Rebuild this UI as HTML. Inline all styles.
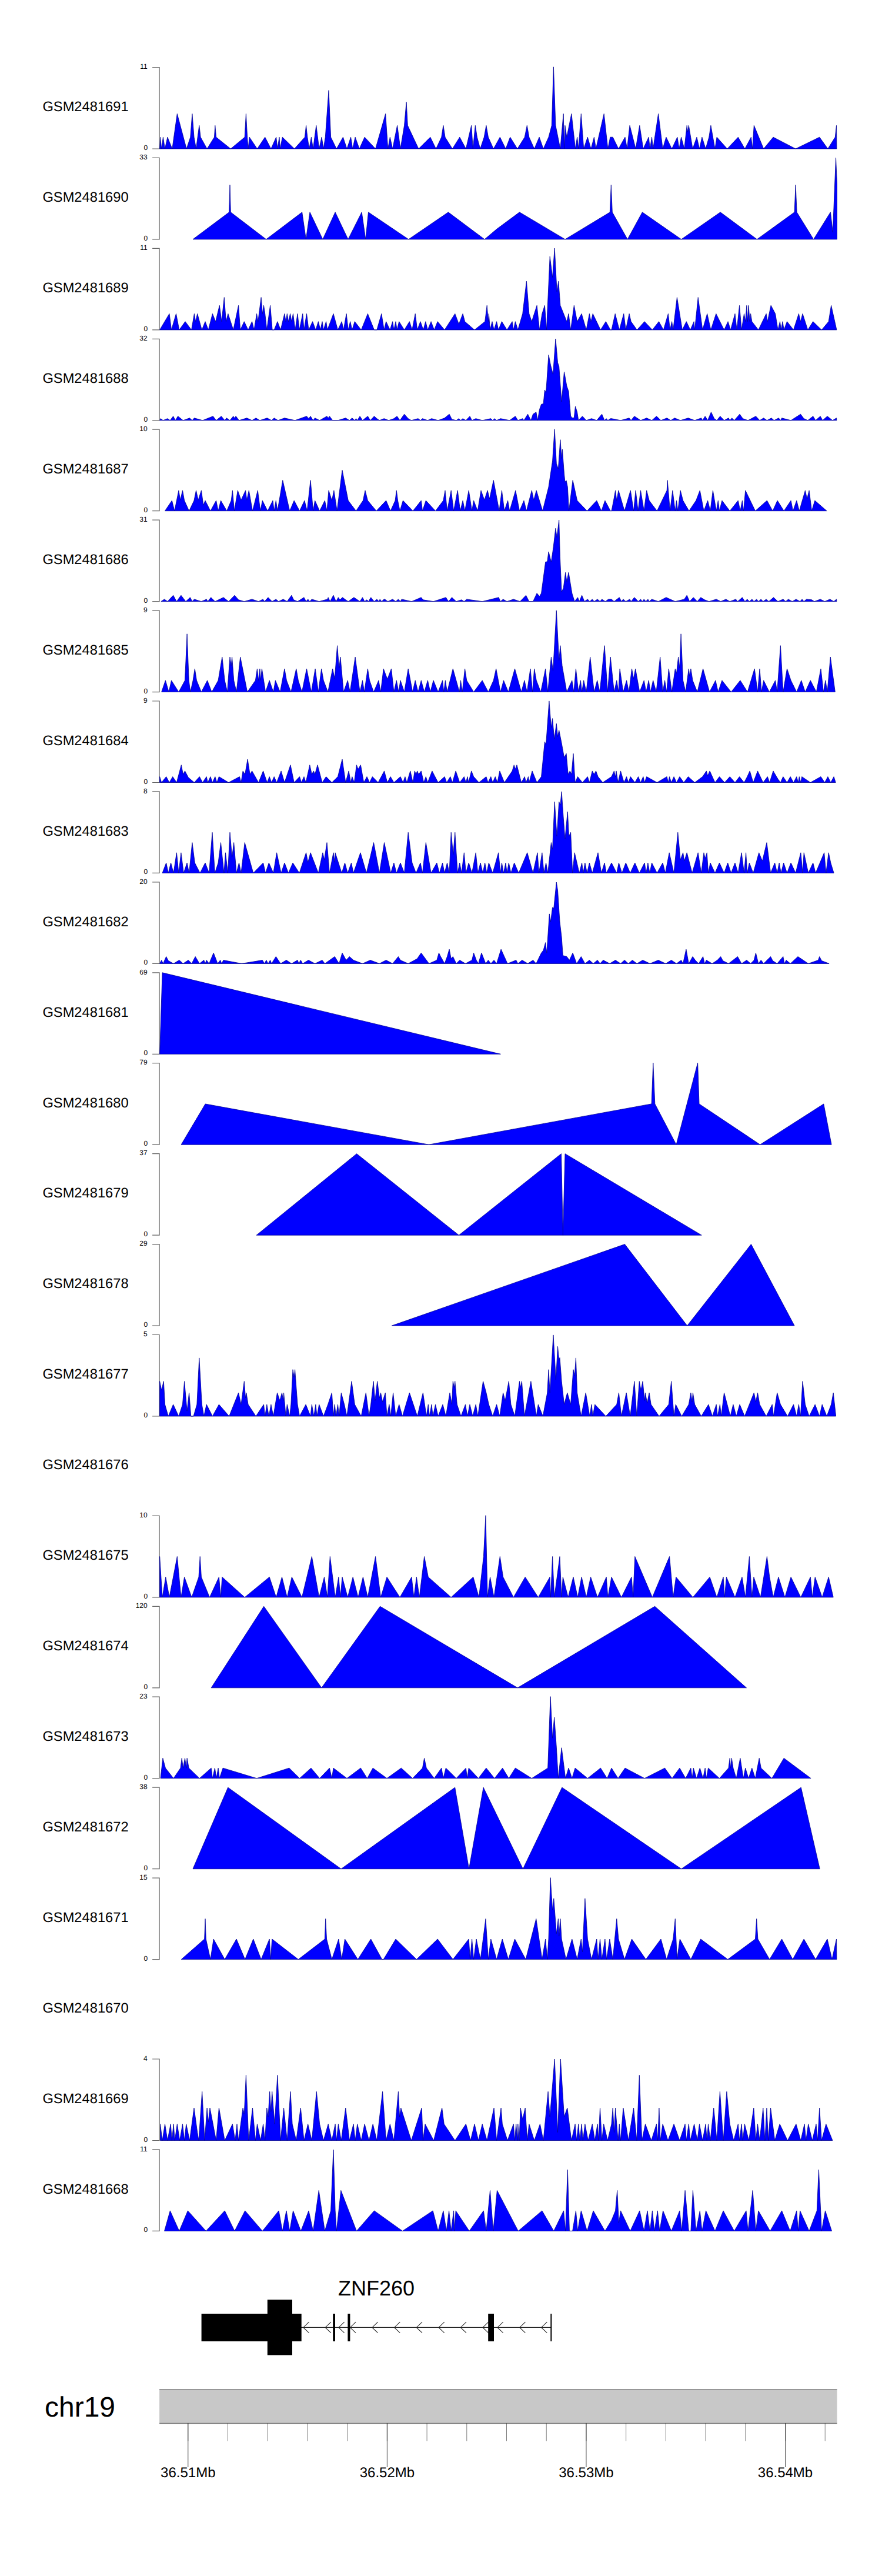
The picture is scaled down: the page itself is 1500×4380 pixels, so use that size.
<!DOCTYPE html><html><head><meta charset="utf-8"><style>html,body{margin:0;padding:0;background:#fff;}svg{display:block;}text{font-family:"Liberation Sans",sans-serif;text-rendering:geometricPrecision;}</style></head><body>
<svg width="1500" height="4380" viewBox="0 0 1500 4380">
<rect x="0" y="0" width="1500" height="4380" fill="#fff"/>
<text x="145.5" y="189.2" font-size="23.7" text-anchor="middle" fill="#000">GSM2481691</text>
<path d="M259.1 114.5H271.1V253.0H259.1" fill="none" stroke="#666" stroke-width="1.2"/>
<text x="250.7" y="117.2" font-size="12" text-anchor="end" fill="#000">11</text>
<text x="251.2" y="255.0" font-size="12" text-anchor="end" fill="#000">0</text>
<polygon points="271.6,253.0 272.5,233.2 274.7,253.0 277.4,233.2 280.5,253.0 284.9,233.2 292.9,253.0 301.3,193.4 317.2,253.0 323.8,233.2 326.9,193.4 330.0,233.2 333.5,253.0 338.8,213.3 341.1,233.2 352.1,253.0 364.5,233.2 365.8,213.3 367.6,233.2 392.3,253.0 416.2,233.2 418.4,193.4 420.6,233.2 422.0,253.0 424.2,233.2 437.4,253.0 450.7,233.2 460.9,253.0 469.7,233.2 471.9,253.0 475.0,233.2 476.4,253.0 480.3,233.2 500.7,253.0 518.4,233.2 520.6,213.3 522.8,233.2 525.9,253.0 529.4,233.2 532.5,253.0 537.8,213.3 542.7,253.0 547.1,233.2 550.2,253.0 553.3,233.2 559.0,153.6 562.6,233.2 572.3,253.0 583.4,233.2 590.0,253.0 596.6,233.2 599.7,253.0 604.1,233.2 611.2,253.0 620.1,233.2 638.6,253.0 650.0,213.3 655.7,193.4 659.7,253.0 663.3,233.2 667.7,253.0 675.6,213.3 681.0,253.0 687.6,213.3 691.1,173.5 693.3,213.3 711.9,253.0 731.8,233.2 741.5,253.0 750.8,233.2 753.9,213.3 757.0,233.2 769.4,253.0 781.8,233.2 792.4,253.0 801.7,213.3 804.3,253.0 808.3,213.3 811.4,233.2 816.7,253.0 823.3,233.2 826.9,213.3 830.4,233.2 839.3,253.0 850.3,233.2 860.0,253.0 867.6,233.2 879.9,253.0 892.3,233.2 896.3,213.3 899.8,233.2 908.7,253.0 917.1,233.2 924.1,253.0 933.0,233.2 938.3,213.3 941.4,113.8 944.9,213.3 952.9,253.0 958.2,193.4 959.5,253.0 960.9,213.3 963.9,233.2 971.9,193.4 978.5,253.0 981.6,233.2 983.8,253.0 988.3,193.4 992.7,253.0 999.3,233.2 1005.1,253.0 1010.4,233.2 1013.5,253.0 1027.2,193.4 1033.8,253.0 1037.8,233.2 1042.2,233.2 1051.9,253.0 1063.0,233.2 1066.5,253.0 1071.0,213.3 1081.1,253.0 1087.8,213.3 1093.9,253.0 1103.2,233.2 1105.4,253.0 1108.5,233.2 1110.7,253.0 1119.6,193.4 1127.1,253.0 1132.9,233.2 1142.6,253.0 1151.9,233.2 1155.0,253.0 1158.5,233.2 1163.8,253.0 1168.2,213.3 1169.6,224.4 1171.3,213.3 1178.0,253.0 1185.0,233.2 1189.5,253.0 1193.9,233.2 1200.1,253.0 1205.8,233.2 1208.9,213.3 1212.4,233.2 1216.0,253.0 1219.1,233.2 1236.8,253.0 1255.3,233.2 1266.8,253.0 1277.4,233.2 1279.7,253.0 1282.3,213.3 1298.7,253.0 1315.0,233.2 1353.1,253.0 1393.7,233.2 1407.9,253.0 1420.3,233.2 1422.5,213.3 1422.9,253.0" fill="#0000ff" stroke="#000090" stroke-width="0.8" stroke-linejoin="miter"/>
<text x="145.5" y="343.2" font-size="23.7" text-anchor="middle" fill="#000">GSM2481690</text>
<path d="M259.1 268.4H271.1V406.9H259.1" fill="none" stroke="#666" stroke-width="1.2"/>
<text x="250.7" y="271.1" font-size="12" text-anchor="end" fill="#000">33</text>
<text x="251.2" y="408.9" font-size="12" text-anchor="end" fill="#000">0</text>
<polygon points="328.0,406.9 389.7,360.8 391.0,314.4 392.3,360.8 452.7,406.9 513.7,360.8 520.4,406.9 527.0,360.8 548.9,406.9 570.1,360.8 592.0,406.9 615.2,360.8 621.8,406.9 626.5,360.8 694.8,406.9 762.4,360.8 824.1,406.9 845.0,389.3 883.5,360.8 961.1,406.9 1037.3,360.8 1039.3,314.4 1041.3,360.8 1067.2,406.9 1092.4,360.8 1158.7,406.9 1225.1,360.8 1287.4,406.9 1351.1,360.8 1353.1,314.4 1355.1,360.8 1383.6,406.9 1412.4,360.8 1416.3,394.9 1421.5,268.3 1423.5,313.9 1423.5,406.9" fill="#0000ff" stroke="#000090" stroke-width="0.8" stroke-linejoin="miter"/>
<text x="145.5" y="497.1" font-size="23.7" text-anchor="middle" fill="#000">GSM2481689</text>
<path d="M259.1 422.4H271.1V560.9H259.1" fill="none" stroke="#666" stroke-width="1.2"/>
<text x="250.7" y="425.1" font-size="12" text-anchor="end" fill="#000">11</text>
<text x="251.2" y="562.9" font-size="12" text-anchor="end" fill="#000">0</text>
<polygon points="271.6,560.9 288.0,533.4 291.5,560.9 299.5,533.4 304.8,560.9 315.0,546.7 325.6,560.9 330.4,533.4 332.7,546.7 335.7,533.4 343.3,560.9 349.0,546.7 354.3,560.9 361.4,533.4 366.7,546.7 373.3,519.3 376.9,546.7 381.3,505.6 384.4,546.7 387.9,533.4 396.8,560.9 405.6,519.3 408.7,560.9 415.3,546.7 422.0,560.9 428.6,546.7 432.1,560.9 436.6,533.4 438.8,546.7 444.1,505.6 446.3,533.4 448.5,519.3 450.7,533.4 453.8,560.9 459.6,519.3 463.1,560.9 466.2,560.9 471.9,546.7 477.2,560.9 483.9,533.4 486.1,546.7 488.3,533.4 490.5,546.7 493.6,533.4 495.8,546.7 498.5,533.4 502.0,560.9 506.0,533.4 509.1,560.9 514.8,533.4 517.0,560.9 521.5,533.4 525.0,560.9 531.6,546.7 536.9,560.9 541.4,546.7 544.9,560.9 548.0,546.7 550.2,560.9 554.6,546.7 556.8,560.9 567.0,533.4 574.5,560.9 581.2,546.7 584.3,560.9 589.1,533.4 592.2,560.9 595.7,546.7 598.8,560.9 603.3,546.7 614.3,560.9 625.4,533.4 636.4,560.9 640.9,560.9 648.8,533.4 653.2,560.9 656.6,546.7 663.3,560.9 667.7,546.7 669.9,560.9 673.0,546.7 675.2,560.9 678.7,546.7 687.6,560.9 696.4,546.7 700.9,560.9 706.2,533.4 709.7,560.9 715.0,546.7 719.9,560.9 723.8,546.7 727.4,560.9 733.1,546.7 738.4,560.9 744.2,546.7 756.1,560.9 773.8,533.4 780.4,551.1 787.1,533.4 790.6,546.7 807.0,560.9 824.7,546.7 828.2,519.3 830.4,546.7 831.3,533.4 833.5,560.9 837.0,546.7 840.1,560.9 844.6,546.7 847.7,560.9 853.4,546.7 862.2,560.9 871.1,546.7 873.3,560.9 876.4,546.7 880.8,560.9 888.8,533.4 895.4,478.2 899.8,533.4 904.3,546.7 913.1,519.3 917.5,560.9 921.9,533.4 926.4,519.3 929.5,560.9 935.2,436.1 939.6,471.5 943.2,422.0 947.1,495.8 949.8,478.2 952.9,519.3 963.9,546.7 967.0,533.4 970.6,560.9 976.3,519.3 981.6,546.7 989.1,533.4 997.1,560.9 1002.4,533.4 1005.1,546.7 1008.2,533.4 1021.4,560.9 1030.3,546.7 1038.2,560.9 1040.0,560.9 1046.2,533.4 1053.3,560.9 1060.8,533.4 1064.3,560.9 1070.1,533.4 1073.2,546.7 1083.3,560.9 1096.2,546.7 1109.4,560.9 1120.5,546.7 1128.4,560.9 1136.4,533.4 1139.5,560.9 1142.6,546.7 1144.8,560.9 1151.4,505.6 1160.3,560.9 1167.3,546.7 1174.0,560.9 1180.2,546.7 1181.5,560.9 1187.2,505.6 1194.8,560.9 1202.7,533.4 1208.9,560.9 1217.8,533.4 1231.5,560.9 1238.1,546.7 1242.5,560.9 1250.0,533.4 1253.1,560.9 1257.6,519.3 1261.1,560.9 1265.5,533.4 1267.7,546.7 1269.9,519.3 1271.3,546.7 1273.0,519.3 1275.2,546.7 1276.6,533.4 1278.8,546.7 1289.8,560.9 1303.1,533.4 1305.3,546.7 1311.1,519.3 1318.6,533.4 1323.0,560.9 1326.5,546.7 1328.3,560.9 1331.0,546.7 1333.2,560.9 1338.5,546.7 1349.5,560.9 1358.4,533.4 1361.5,546.7 1365.0,533.4 1373.8,560.9 1382.7,546.7 1397.3,560.9 1409.2,546.7 1413.6,519.3 1422.9,560.9" fill="#0000ff" stroke="#000090" stroke-width="0.8" stroke-linejoin="miter"/>
<text x="145.5" y="651.0" font-size="23.7" text-anchor="middle" fill="#000">GSM2481688</text>
<path d="M259.1 576.3H271.1V714.8H259.1" fill="none" stroke="#666" stroke-width="1.2"/>
<text x="250.7" y="579.0" font-size="12" text-anchor="end" fill="#000">32</text>
<text x="251.2" y="716.8" font-size="12" text-anchor="end" fill="#000">0</text>
<polygon points="271.6,714.8 273.0,711.7 277.4,714.8 284.9,711.7 289.3,714.8 294.6,707.7 298.2,714.8 302.6,707.7 311.4,714.8 322.5,710.8 326.9,714.8 330.4,710.8 344.6,714.8 362.3,707.7 367.6,714.8 376.4,707.7 382.2,714.8 385.3,710.8 391.0,714.8 396.8,707.7 398.5,710.8 401.2,707.7 406.5,714.8 419.8,710.8 428.6,714.8 435.2,710.8 441.9,714.8 454.3,710.8 461.8,714.8 466.2,710.8 472.8,714.8 483.9,710.8 501.6,714.8 521.5,707.7 525.0,711.7 528.1,707.7 532.5,714.8 535.6,710.8 543.6,714.8 556.0,707.7 558.2,710.8 560.4,707.7 565.7,714.8 574.5,714.8 587.8,710.8 594.4,714.8 598.8,710.8 603.3,714.8 605.5,711.7 607.7,714.8 612.1,707.7 616.5,714.8 625.4,707.7 629.8,714.8 636.4,707.7 640.9,711.7 645.3,714.8 653.2,711.7 661.1,714.8 669.9,711.7 675.2,707.7 680.1,714.8 687.6,704.2 694.2,711.7 699.5,714.8 711.0,711.7 715.0,714.8 718.5,711.7 727.4,714.8 734.0,711.7 745.1,714.8 756.1,710.8 764.1,704.2 768.5,713.0 776.0,714.8 780.4,711.7 783.5,714.8 787.1,711.7 792.4,714.8 799.0,707.7 802.6,714.8 809.2,711.7 820.2,714.8 834.8,711.7 837.9,714.8 841.0,711.7 844.6,714.8 851.2,711.7 866.7,714.8 876.4,707.7 880.8,714.8 888.8,711.7 891.0,714.8 897.6,704.2 902.9,714.8 906.5,704.2 911.8,700.7 914.4,714.8 917.5,696.2 920.6,687.4 924.1,686.5 926.4,663.1 928.6,667.5 933.0,603.4 936.5,621.1 940.5,636.5 944.9,576.0 948.5,616.6 950.7,623.3 955.1,683.0 959.5,632.1 963.9,656.4 967.0,665.3 970.6,707.3 972.8,710.4 976.3,710.4 978.5,690.9 981.6,700.7 983.8,714.8 990.5,707.7 997.1,714.8 1006.0,711.7 1014.8,714.8 1023.6,704.2 1028.1,714.8 1031.2,711.7 1033.8,714.8 1038.2,711.7 1040.0,711.7 1055.5,714.8 1070.1,710.8 1073.2,714.8 1078.9,707.7 1089.5,714.8 1099.7,710.8 1108.5,714.8 1116.5,707.7 1124.0,714.8 1134.2,710.8 1140.8,714.8 1147.4,710.8 1157.2,714.8 1170.4,710.8 1181.5,714.8 1192.6,710.8 1194.8,714.8 1199.2,707.7 1203.6,714.8 1209.4,700.7 1214.7,711.7 1219.1,714.8 1224.8,707.7 1231.5,714.8 1239.0,710.8 1241.2,714.8 1244.7,710.8 1248.7,714.8 1258.0,704.2 1263.3,711.7 1272.1,714.8 1285.4,707.7 1292.0,714.8 1298.7,710.8 1304.4,714.8 1311.9,710.8 1316.4,714.8 1324.3,710.8 1327.4,714.8 1329.6,710.8 1345.1,714.8 1361.5,704.2 1367.2,711.7 1373.8,714.8 1382.7,707.7 1387.1,714.8 1395.1,707.7 1399.0,714.8 1407.0,707.7 1415.9,714.8 1422.5,710.8 1422.9,714.8" fill="#0000ff" stroke="#000090" stroke-width="0.8" stroke-linejoin="miter"/>
<text x="145.5" y="805.0" font-size="23.7" text-anchor="middle" fill="#000">GSM2481687</text>
<path d="M259.1 730.2H271.1V868.7H259.1" fill="none" stroke="#666" stroke-width="1.2"/>
<text x="250.7" y="732.9" font-size="12" text-anchor="end" fill="#000">10</text>
<text x="251.2" y="870.7" font-size="12" text-anchor="end" fill="#000">0</text>
<polygon points="280.5,868.7 292.4,851.1 296.8,868.7 303.9,833.9 306.6,850.2 310.5,833.9 313.6,851.1 321.6,868.7 330.0,851.1 333.5,833.9 337.1,850.2 342.4,833.9 345.9,859.1 349.0,851.1 357.9,868.7 367.6,851.1 371.1,868.7 375.5,851.1 385.7,868.7 393.2,851.1 395.4,833.9 398.5,868.7 404.3,833.9 410.0,850.2 417.6,833.9 419.8,850.2 423.3,833.9 429.5,868.7 438.3,833.9 442.8,868.7 446.3,851.1 455.1,868.7 464.0,851.1 466.2,868.7 469.3,851.1 471.9,868.7 480.8,816.6 492.7,868.7 500.2,851.1 509.5,868.7 517.9,851.1 522.3,868.7 528.1,816.6 532.5,868.7 535.6,851.1 543.6,868.7 552.4,851.1 556.0,868.7 559.0,833.9 564.4,851.1 567.9,833.9 573.2,868.7 582.0,799.4 592.2,851.1 605.5,868.7 617.4,851.1 621.0,833.9 625.4,851.1 640.0,868.7 656.6,851.1 664.1,868.7 672.1,851.1 674.3,833.9 676.5,851.1 680.1,868.7 685.4,851.1 702.2,868.7 716.3,851.1 718.5,868.7 724.3,851.1 740.6,868.7 753.9,851.1 757.0,833.9 760.5,868.7 767.2,833.9 771.6,868.7 778.2,833.9 782.7,868.7 787.1,851.1 790.6,868.7 797.2,833.9 802.6,868.7 805.6,851.1 812.3,868.7 818.0,833.9 823.8,850.2 829.1,833.9 832.6,848.0 839.3,816.6 849.0,868.7 853.4,833.9 857.8,868.7 863.6,851.1 866.7,868.7 876.8,833.9 883.5,868.7 891.0,851.1 895.4,868.7 904.3,833.9 907.8,850.2 912.2,833.9 922.8,868.7 933.0,828.1 939.6,783.9 943.2,729.9 946.3,788.3 949.4,797.2 952.9,747.6 955.1,779.5 956.4,764.0 959.5,806.0 960.9,819.3 963.1,817.0 965.3,828.1 967.5,868.7 974.1,816.6 981.6,851.1 998.4,868.7 1014.8,851.1 1022.8,868.7 1028.9,851.1 1038.2,868.7 1040.0,868.7 1043.5,851.1 1046.6,833.9 1048.8,851.1 1051.9,833.9 1062.1,868.7 1072.3,833.9 1077.6,868.7 1081.1,833.9 1085.1,868.7 1089.5,833.9 1095.3,868.7 1099.7,833.9 1104.1,851.1 1117.4,868.7 1134.2,833.9 1135.1,816.6 1139.5,868.7 1143.9,833.9 1147.0,859.1 1148.3,868.7 1150.5,851.1 1152.8,868.7 1157.2,833.9 1161.6,851.1 1171.8,868.7 1183.7,851.1 1190.3,833.9 1197.0,868.7 1203.6,851.1 1208.0,868.7 1212.4,833.9 1218.2,868.7 1221.3,851.1 1223.5,868.7 1227.9,851.1 1241.2,868.7 1255.3,851.1 1258.9,868.7 1262.4,851.1 1264.6,868.7 1267.7,833.9 1284.5,868.7 1304.4,851.1 1314.1,868.7 1322.1,851.1 1333.2,868.7 1345.1,851.1 1348.6,868.7 1354.8,851.1 1359.3,868.7 1369.4,833.9 1372.5,848.0 1376.1,833.9 1380.5,868.7 1385.8,851.1 1406.1,868.7" fill="#0000ff" stroke="#000090" stroke-width="0.8" stroke-linejoin="miter"/>
<text x="145.5" y="958.9" font-size="23.7" text-anchor="middle" fill="#000">GSM2481686</text>
<path d="M259.1 884.2H271.1V1022.7H259.1" fill="none" stroke="#666" stroke-width="1.2"/>
<text x="250.7" y="886.9" font-size="12" text-anchor="end" fill="#000">31</text>
<text x="251.2" y="1024.7" font-size="12" text-anchor="end" fill="#000">0</text>
<polygon points="273.8,1022.7 279.6,1018.9 284.9,1022.7 294.6,1012.2 300.4,1022.7 307.9,1012.2 315.9,1022.7 323.4,1015.8 326.9,1022.7 330.4,1018.9 342.4,1022.7 351.2,1018.9 353.4,1022.7 358.7,1015.8 365.8,1022.7 380.0,1015.8 388.8,1022.7 399.0,1012.2 405.6,1019.8 415.3,1022.7 428.6,1018.9 439.7,1022.7 447.2,1018.9 449.8,1022.7 456.0,1015.8 462.7,1022.7 469.3,1018.9 473.7,1022.7 481.7,1018.9 488.3,1022.7 495.8,1012.2 499.4,1019.8 506.0,1022.7 517.0,1015.8 520.6,1022.7 523.7,1018.9 526.8,1022.7 530.3,1018.9 542.7,1022.7 556.8,1018.9 558.2,1015.8 561.3,1022.7 567.0,1012.2 571.4,1022.7 575.4,1015.8 578.1,1019.8 582.5,1015.8 587.8,1019.8 592.2,1022.7 601.9,1015.8 612.1,1022.7 616.5,1015.8 620.1,1022.7 624.0,1019.8 626.7,1022.7 630.7,1015.8 636.4,1022.7 640.9,1018.9 644.4,1022.7 646.2,1018.9 648.8,1022.7 653.2,1018.9 654.4,1018.9 659.7,1022.7 667.7,1018.9 673.0,1022.7 677.4,1018.9 681.0,1022.7 683.2,1018.9 700.0,1022.7 716.3,1015.8 719.4,1019.8 737.1,1022.7 758.3,1015.8 762.8,1022.7 768.5,1015.8 776.0,1022.7 784.9,1019.8 789.3,1022.7 793.7,1018.9 820.2,1022.7 848.1,1015.8 851.2,1022.7 855.6,1018.9 862.2,1022.7 873.3,1018.9 884.4,1022.7 894.5,1012.2 899.8,1022.7 906.5,1022.7 913.1,1008.7 917.5,1014.0 920.6,1008.7 927.7,955.6 930.8,954.8 933.0,938.0 937.4,955.6 941.0,931.3 944.9,898.2 947.1,913.6 950.7,884.0 952.4,946.8 955.1,1006.5 958.2,999.9 961.7,973.3 963.9,988.8 967.0,973.3 972.8,1008.7 977.2,1022.7 982.5,1015.8 985.2,1022.7 989.6,1012.2 994.0,1022.7 999.3,1018.9 1002.9,1022.7 1007.3,1018.9 1010.4,1022.7 1016.1,1018.9 1020.5,1022.7 1023.6,1018.9 1029.4,1022.7 1034.7,1018.9 1040.0,1018.9 1044.4,1022.7 1053.3,1015.8 1056.8,1022.7 1059.9,1018.9 1064.3,1022.7 1071.0,1018.9 1073.2,1022.7 1078.9,1015.8 1085.5,1022.7 1089.5,1018.9 1092.2,1022.7 1095.3,1018.9 1098.4,1022.7 1101.9,1018.9 1104.1,1022.7 1108.5,1018.9 1119.6,1022.7 1132.9,1015.8 1148.3,1022.7 1163.8,1018.9 1168.2,1012.2 1172.7,1022.7 1179.3,1015.8 1185.9,1022.7 1191.7,1015.8 1198.3,1019.8 1205.8,1022.7 1218.2,1018.9 1225.7,1022.7 1234.6,1018.9 1241.2,1022.7 1251.4,1018.9 1254.5,1022.7 1262.4,1015.8 1266.8,1022.7 1270.8,1018.9 1274.4,1022.7 1278.8,1018.9 1282.3,1022.7 1286.7,1018.9 1289.8,1022.7 1294.3,1018.9 1297.8,1022.7 1303.1,1018.9 1307.5,1022.7 1315.5,1015.8 1323.0,1022.7 1331.8,1018.9 1336.3,1022.7 1340.7,1018.9 1347.3,1022.7 1353.9,1018.9 1360.6,1022.7 1364.1,1018.9 1367.2,1022.7 1371.6,1018.9 1380.5,1019.8 1384.9,1022.7 1395.1,1018.9 1402.6,1022.7 1411.4,1018.9 1418.1,1022.7 1422.5,1018.9 1422.9,1022.7" fill="#0000ff" stroke="#000090" stroke-width="0.8" stroke-linejoin="miter"/>
<text x="145.5" y="1112.8" font-size="23.7" text-anchor="middle" fill="#000">GSM2481685</text>
<path d="M259.1 1038.1H271.1V1176.6H259.1" fill="none" stroke="#666" stroke-width="1.2"/>
<text x="250.7" y="1040.8" font-size="12" text-anchor="end" fill="#000">9</text>
<text x="251.2" y="1178.6" font-size="12" text-anchor="end" fill="#000">0</text>
<polygon points="274.7,1176.6 281.4,1156.9 287.1,1176.6 291.5,1156.9 303.9,1176.6 314.5,1156.9 318.1,1077.8 321.2,1156.9 323.8,1176.6 328.2,1156.9 331.3,1137.0 334.4,1156.9 342.4,1176.6 352.6,1156.9 360.1,1176.6 371.1,1156.9 377.8,1117.1 382.2,1156.9 386.6,1176.6 391.0,1117.1 393.2,1131.7 394.6,1117.1 397.7,1156.9 402.1,1176.6 408.7,1117.1 420.6,1176.6 434.4,1156.9 437.4,1137.0 439.7,1156.9 441.9,1137.0 443.2,1156.9 445.4,1137.0 451.6,1176.6 458.2,1156.9 464.9,1176.6 468.4,1156.9 476.4,1176.6 483.9,1137.0 487.4,1156.9 494.9,1176.6 503.8,1137.0 507.3,1156.9 513.5,1176.6 521.5,1137.0 529.4,1176.6 536.1,1137.0 541.4,1176.6 546.7,1137.0 550.2,1156.9 557.7,1176.6 565.7,1137.0 569.2,1153.8 573.6,1097.7 576.7,1136.1 578.9,1117.1 584.3,1176.6 591.3,1156.9 595.3,1176.6 604.1,1117.1 612.1,1176.6 616.5,1156.9 619.6,1176.6 625.4,1137.0 628.5,1156.9 635.5,1176.6 643.9,1156.9 647.5,1176.6 652.2,1137.0 658.8,1154.7 665.5,1137.0 669.9,1176.6 674.3,1156.9 677.9,1176.6 681.0,1156.9 687.6,1176.6 694.2,1137.0 701.7,1176.6 706.2,1156.9 711.0,1176.6 716.3,1156.9 721.6,1176.6 727.4,1156.9 731.8,1176.6 737.1,1156.9 745.1,1176.6 752.6,1156.9 754.8,1176.6 757.4,1156.9 760.5,1176.6 770.3,1137.0 781.3,1176.6 783.5,1156.9 786.2,1176.6 790.6,1137.0 793.7,1156.9 805.6,1176.6 820.2,1156.9 830.4,1176.6 839.3,1156.9 843.7,1137.0 851.2,1176.6 856.5,1156.9 864.5,1176.6 875.5,1137.0 886.6,1176.6 891.9,1156.9 896.3,1176.6 902.0,1137.0 905.6,1176.6 908.7,1137.0 912.2,1156.9 919.7,1176.6 927.7,1137.0 931.7,1176.6 937.4,1117.1 940.5,1140.6 946.3,1038.0 950.7,1122.9 952.9,1097.7 956.0,1131.7 963.9,1176.6 972.8,1156.9 975.9,1176.6 979.4,1137.0 983.8,1176.6 987.4,1156.9 989.6,1176.6 992.7,1156.9 997.1,1176.6 1003.7,1117.1 1010.4,1176.6 1015.7,1156.9 1020.1,1176.6 1028.1,1097.7 1033.4,1176.6 1038.2,1117.1 1044.4,1176.6 1048.8,1156.9 1051.9,1176.6 1054.1,1137.0 1059.9,1176.6 1065.6,1156.9 1069.6,1176.6 1074.5,1137.0 1077.6,1153.8 1080.7,1137.0 1087.8,1176.6 1095.3,1156.9 1098.8,1176.6 1103.2,1156.9 1106.3,1176.6 1110.7,1156.9 1116.1,1176.6 1122.7,1117.1 1127.1,1176.6 1130.6,1156.9 1133.7,1176.6 1137.3,1137.0 1142.6,1176.6 1148.3,1137.0 1150.5,1145.0 1153.6,1117.1 1155.9,1136.1 1158.1,1077.8 1161.6,1156.9 1166.0,1176.6 1171.3,1137.0 1172.7,1149.4 1174.9,1137.0 1178.0,1156.9 1185.9,1176.6 1195.6,1137.0 1206.7,1176.6 1216.9,1156.9 1221.3,1176.6 1227.9,1156.9 1243.4,1176.6 1258.9,1156.9 1271.3,1176.6 1283.2,1137.0 1288.5,1176.6 1292.0,1137.0 1295.1,1176.6 1298.7,1156.9 1308.4,1176.6 1318.6,1156.9 1321.7,1176.6 1327.4,1097.7 1331.8,1176.6 1338.5,1137.0 1345.1,1156.9 1354.8,1176.6 1362.8,1156.9 1369.4,1176.6 1378.3,1156.9 1388.4,1176.6 1396.0,1137.0 1400.4,1176.6 1403.9,1156.9 1407.0,1176.6 1412.3,1117.1 1420.3,1176.6" fill="#0000ff" stroke="#000090" stroke-width="0.8" stroke-linejoin="miter"/>
<text x="145.5" y="1266.8" font-size="23.7" text-anchor="middle" fill="#000">GSM2481684</text>
<path d="M259.1 1192.0H271.1V1330.5H259.1" fill="none" stroke="#666" stroke-width="1.2"/>
<text x="250.7" y="1194.7" font-size="12" text-anchor="end" fill="#000">9</text>
<text x="251.2" y="1332.5" font-size="12" text-anchor="end" fill="#000">0</text>
<polygon points="271.6,1330.5 271.6,1320.6 274.7,1330.5 282.7,1320.6 288.0,1330.5 293.7,1320.6 300.4,1330.5 308.3,1300.7 311.4,1316.6 314.5,1310.9 320.3,1321.9 330.4,1330.5 339.3,1320.6 344.6,1330.5 351.2,1320.6 353.4,1330.5 357.9,1320.6 361.4,1330.5 365.8,1320.6 368.9,1330.5 372.4,1320.6 388.8,1330.5 407.4,1320.6 410.0,1330.5 413.1,1310.9 416.7,1316.6 421.1,1291.0 425.1,1316.6 428.6,1310.9 439.7,1330.5 447.6,1310.9 454.3,1330.5 458.2,1320.6 461.8,1330.5 466.2,1320.6 470.6,1330.5 478.1,1310.9 483.9,1330.5 494.0,1300.7 500.2,1330.5 509.5,1320.6 512.6,1330.5 517.0,1320.6 520.1,1330.5 526.8,1300.7 530.3,1316.6 533.4,1310.9 535.6,1316.6 540.0,1300.7 548.0,1330.5 554.6,1320.6 564.4,1330.5 574.5,1320.6 582.0,1291.0 587.8,1330.5 593.1,1310.9 596.6,1330.5 598.8,1320.6 602.4,1330.5 606.4,1300.7 609.0,1307.8 613.4,1300.7 618.7,1330.5 624.0,1320.6 628.5,1330.5 633.3,1320.6 643.1,1330.5 653.5,1310.9 658.8,1330.5 664.1,1320.6 669.9,1330.5 681.0,1320.6 685.4,1330.5 688.9,1320.6 692.0,1330.5 697.8,1310.9 702.2,1330.5 705.3,1310.9 707.5,1316.6 709.7,1310.9 711.9,1316.6 716.3,1310.9 720.7,1330.5 724.3,1320.6 727.4,1330.5 734.9,1310.9 745.1,1330.5 756.1,1320.6 759.7,1330.5 765.9,1320.6 769.4,1330.5 775.1,1310.9 781.8,1330.5 789.3,1320.6 792.4,1330.5 795.0,1320.6 796.8,1330.5 801.7,1310.9 805.6,1320.6 814.5,1330.5 826.9,1320.6 830.0,1330.5 834.8,1320.6 837.9,1330.5 842.3,1320.6 845.9,1330.5 849.9,1310.9 857.8,1330.5 871.1,1310.9 874.2,1300.7 876.4,1307.8 879.0,1300.7 886.6,1330.5 892.3,1320.6 894.5,1330.5 898.5,1320.6 899.8,1330.5 905.1,1310.9 913.1,1330.5 920.6,1320.6 926.4,1261.4 928.6,1265.8 933.9,1191.9 937.4,1237.1 939.6,1221.6 942.7,1256.9 946.3,1230.4 948.5,1252.5 950.7,1241.5 955.1,1263.6 959.5,1287.9 963.1,1281.3 966.2,1316.6 969.3,1310.9 971.9,1316.6 975.0,1281.3 978.1,1330.5 982.5,1320.6 990.5,1330.5 999.3,1320.6 1002.4,1330.5 1007.3,1310.9 1010.4,1316.6 1013.5,1310.9 1017.0,1320.6 1025.0,1330.5 1040.0,1320.6 1044.4,1310.9 1046.6,1321.1 1048.0,1310.9 1051.1,1330.5 1055.5,1310.9 1061.2,1330.5 1065.6,1320.6 1068.7,1330.5 1072.3,1320.6 1079.8,1330.5 1085.5,1320.6 1089.5,1330.5 1093.9,1320.6 1096.2,1330.5 1099.7,1320.6 1117.4,1330.5 1134.2,1320.6 1136.4,1330.5 1138.6,1320.6 1141.7,1330.5 1146.1,1320.6 1150.5,1330.5 1155.9,1320.6 1162.9,1330.5 1170.4,1320.6 1181.5,1330.5 1194.8,1320.6 1201.4,1310.9 1203.6,1318.9 1207.1,1310.9 1216.0,1330.5 1223.5,1320.6 1232.3,1330.5 1241.2,1320.6 1250.0,1330.5 1257.6,1320.6 1265.5,1330.5 1270.8,1320.6 1275.2,1310.9 1281.0,1330.5 1288.5,1310.9 1297.8,1330.5 1305.3,1320.6 1308.8,1330.5 1315.0,1310.9 1323.0,1324.6 1327.4,1330.5 1331.8,1320.6 1338.5,1330.5 1344.2,1320.6 1349.5,1330.5 1354.8,1320.6 1357.5,1330.5 1359.3,1320.6 1361.9,1330.5 1363.7,1320.6 1378.3,1330.5 1396.0,1320.6 1402.6,1330.5 1407.9,1320.6 1412.8,1330.5 1418.1,1320.6 1421.2,1330.5" fill="#0000ff" stroke="#000090" stroke-width="0.8" stroke-linejoin="miter"/>
<text x="145.5" y="1420.7" font-size="23.7" text-anchor="middle" fill="#000">GSM2481683</text>
<path d="M259.1 1345.9H271.1V1484.4H259.1" fill="none" stroke="#666" stroke-width="1.2"/>
<text x="250.7" y="1348.6" font-size="12" text-anchor="end" fill="#000">8</text>
<text x="251.2" y="1486.4" font-size="12" text-anchor="end" fill="#000">0</text>
<polygon points="276.1,1484.4 282.7,1467.1 286.2,1484.4 290.6,1467.1 295.1,1484.4 300.4,1449.8 303.9,1484.4 307.9,1449.8 312.3,1484.4 318.1,1467.1 321.6,1484.4 326.9,1432.6 331.3,1467.1 340.2,1484.4 349.0,1467.1 355.6,1484.4 361.0,1415.3 365.4,1484.4 371.1,1467.1 375.5,1432.6 380.9,1484.4 383.5,1449.8 387.5,1484.4 391.0,1415.3 394.6,1457.3 397.7,1432.6 402.1,1484.4 406.5,1467.1 410.0,1484.4 416.2,1432.6 430.8,1484.4 447.6,1467.1 451.6,1484.4 457.3,1467.1 464.9,1484.4 470.6,1449.8 478.1,1484.4 483.9,1467.1 490.5,1484.4 498.0,1467.1 509.1,1484.4 520.6,1449.8 523.7,1466.2 528.1,1449.8 541.4,1484.4 548.9,1449.8 551.5,1461.8 556.0,1432.6 560.4,1484.4 567.0,1449.8 569.2,1466.2 570.1,1449.8 581.2,1484.4 586.5,1467.1 591.3,1484.4 597.5,1467.1 601.1,1484.4 613.0,1449.8 623.2,1484.4 635.5,1432.6 645.3,1484.4 653.5,1432.6 664.6,1484.4 669.9,1467.1 674.3,1484.4 681.0,1467.1 687.6,1484.4 694.2,1415.3 700.9,1467.1 707.5,1484.4 715.0,1467.1 718.5,1484.4 724.3,1432.6 733.1,1484.4 742.9,1467.1 747.3,1484.4 752.6,1467.1 756.1,1484.4 760.5,1467.1 764.1,1484.4 767.2,1415.3 770.7,1452.9 773.8,1415.3 778.2,1484.4 781.8,1467.1 784.9,1484.4 789.3,1449.8 792.4,1484.4 797.2,1467.1 802.6,1484.4 809.2,1449.8 812.7,1484.4 817.1,1467.1 821.1,1484.4 824.7,1467.1 827.8,1484.4 831.3,1467.1 837.9,1484.4 847.7,1449.8 851.2,1484.4 853.4,1467.1 856.5,1484.4 860.0,1467.1 862.2,1484.4 865.3,1467.1 868.9,1484.4 874.6,1467.1 882.1,1484.4 896.7,1449.8 906.5,1484.4 914.0,1449.8 916.6,1484.4 921.9,1449.8 925.0,1484.4 928.6,1467.1 931.7,1484.4 937.4,1432.6 939.6,1444.1 943.2,1363.2 947.1,1422.0 950.7,1363.2 952.9,1368.9 955.1,1345.9 958.2,1391.0 960.9,1426.4 965.3,1380.0 967.5,1422.0 970.6,1415.3 973.7,1484.4 977.2,1449.8 985.2,1484.4 989.6,1467.1 991.8,1484.4 994.9,1467.1 998.4,1484.4 1002.4,1467.1 1007.3,1484.4 1017.0,1449.8 1022.8,1484.4 1028.1,1467.1 1031.2,1484.4 1040.0,1467.1 1048.8,1484.4 1052.4,1467.1 1057.7,1484.4 1064.3,1467.1 1071.8,1484.4 1079.8,1467.1 1087.3,1484.4 1096.2,1467.1 1098.8,1484.4 1101.9,1467.1 1105.0,1484.4 1108.5,1467.1 1117.4,1484.4 1127.1,1467.1 1131.5,1484.4 1138.2,1449.8 1146.1,1484.4 1152.8,1415.3 1157.2,1461.8 1161.6,1449.8 1163.8,1464.0 1168.2,1449.8 1177.1,1484.4 1187.2,1449.8 1192.6,1484.4 1197.0,1449.8 1199.2,1459.6 1202.3,1449.8 1204.5,1484.4 1208.0,1467.1 1216.0,1484.4 1223.5,1467.1 1231.5,1484.4 1237.7,1467.1 1243.4,1484.4 1250.0,1467.1 1255.3,1484.4 1261.1,1449.8 1265.5,1484.4 1268.6,1449.8 1270.8,1484.4 1274.4,1467.1 1281.0,1484.4 1290.7,1449.8 1296.5,1464.0 1304.0,1432.6 1310.6,1484.4 1317.7,1467.1 1321.7,1484.4 1325.2,1467.1 1328.3,1484.4 1332.7,1467.1 1338.5,1484.4 1345.1,1467.1 1353.1,1484.4 1361.9,1449.8 1365.0,1484.4 1367.2,1449.8 1374.7,1484.4 1382.7,1467.1 1387.1,1484.4 1401.7,1449.8 1404.8,1484.4 1409.2,1449.8 1412.8,1467.1 1418.1,1484.4" fill="#0000ff" stroke="#000090" stroke-width="0.8" stroke-linejoin="miter"/>
<text x="145.5" y="1574.6" font-size="23.7" text-anchor="middle" fill="#000">GSM2481682</text>
<path d="M259.1 1499.9H271.1V1638.4H259.1" fill="none" stroke="#666" stroke-width="1.2"/>
<text x="250.7" y="1502.6" font-size="12" text-anchor="end" fill="#000">20</text>
<text x="251.2" y="1640.4" font-size="12" text-anchor="end" fill="#000">0</text>
<polygon points="271.6,1638.4 274.7,1632.6 277.4,1638.4 282.7,1626.5 286.2,1633.5 295.1,1638.4 304.8,1632.6 311.4,1638.4 320.3,1632.6 326.0,1638.4 332.2,1626.5 339.3,1638.4 346.8,1632.6 349.0,1638.4 351.2,1632.6 355.6,1638.4 363.2,1620.3 370.2,1638.4 374.7,1632.6 376.9,1638.4 380.0,1632.6 410.9,1638.4 446.3,1632.6 449.8,1638.4 452.9,1632.6 456.0,1638.4 459.6,1632.6 461.8,1638.4 469.3,1626.5 477.2,1638.4 487.0,1632.6 495.8,1638.4 506.0,1632.6 508.2,1638.4 511.3,1632.6 514.8,1638.4 524.6,1632.6 535.6,1638.4 548.0,1632.6 552.4,1638.4 569.2,1626.5 576.7,1638.4 582.0,1620.3 588.7,1632.6 594.4,1626.5 601.1,1632.6 616.5,1638.4 629.8,1632.6 645.3,1638.4 656.6,1632.6 667.7,1638.4 677.4,1626.5 681.0,1632.6 694.2,1638.4 709.7,1630.0 711.9,1626.5 716.3,1620.3 729.6,1638.4 742.9,1632.6 746.4,1620.3 749.5,1626.5 756.1,1638.4 760.5,1626.5 764.1,1614.1 767.2,1630.0 770.3,1626.5 776.0,1638.4 781.8,1632.6 791.5,1638.4 802.6,1632.6 805.6,1620.3 810.1,1632.6 813.6,1638.4 818.9,1620.3 826.0,1638.4 830.4,1632.6 834.8,1638.4 840.1,1632.6 844.6,1638.4 852.1,1614.1 863.1,1638.4 877.7,1632.6 880.8,1638.4 887.9,1632.6 897.6,1638.4 906.5,1632.6 911.8,1638.4 920.6,1620.3 924.1,1615.8 927.7,1602.6 929.9,1620.3 934.3,1553.9 936.5,1567.2 939.6,1542.9 941.8,1544.2 946.3,1500.0 948.5,1514.1 952.0,1567.2 955.1,1593.7 957.3,1624.7 963.9,1626.5 968.4,1632.6 974.1,1620.3 980.7,1638.4 988.3,1626.5 994.9,1638.4 1002.4,1632.6 1009.0,1638.4 1016.1,1632.6 1020.5,1638.4 1025.9,1632.6 1036.9,1638.4 1046.6,1632.6 1055.5,1638.4 1062.1,1632.6 1068.7,1638.4 1075.4,1632.6 1083.3,1638.4 1093.1,1632.6 1105.4,1638.4 1119.6,1632.6 1132.0,1638.4 1141.7,1632.6 1150.5,1638.4 1158.5,1632.6 1161.6,1638.4 1166.9,1614.1 1171.3,1638.4 1178.0,1626.5 1182.4,1632.6 1188.1,1638.4 1195.6,1626.5 1198.3,1638.4 1201.4,1632.6 1211.1,1638.4 1220.0,1632.6 1225.7,1626.5 1229.3,1633.5 1239.0,1638.4 1254.5,1626.5 1261.1,1638.4 1269.9,1632.6 1276.6,1638.4 1282.3,1632.6 1285.4,1620.3 1289.8,1638.4 1294.3,1632.6 1298.7,1638.4 1310.6,1626.5 1314.1,1633.5 1321.7,1638.4 1331.8,1626.5 1334.0,1638.4 1337.1,1632.6 1344.2,1638.4 1357.0,1626.5 1374.7,1638.4 1391.5,1632.6 1393.7,1626.5 1397.3,1633.5 1410.1,1638.4" fill="#0000ff" stroke="#000090" stroke-width="0.8" stroke-linejoin="miter"/>
<text x="145.5" y="1728.6" font-size="23.7" text-anchor="middle" fill="#000">GSM2481681</text>
<path d="M259.1 1653.8H271.1V1792.3H259.1" fill="none" stroke="#666" stroke-width="1.2"/>
<text x="250.7" y="1656.5" font-size="12" text-anchor="end" fill="#000">69</text>
<text x="251.2" y="1794.3" font-size="12" text-anchor="end" fill="#000">0</text>
<polygon points="271.6,1792.3 276.1,1653.8 851.4,1792.3" fill="#0000ff" stroke="#000090" stroke-width="0.8" stroke-linejoin="miter"/>
<text x="145.5" y="1882.5" font-size="23.7" text-anchor="middle" fill="#000">GSM2481680</text>
<path d="M259.1 1807.7H271.1V1946.2H259.1" fill="none" stroke="#666" stroke-width="1.2"/>
<text x="250.7" y="1810.4" font-size="12" text-anchor="end" fill="#000">79</text>
<text x="251.2" y="1948.2" font-size="12" text-anchor="end" fill="#000">0</text>
<polygon points="308.1,1946.2 349.2,1877.0 729.3,1946.2 1108.1,1876.9 1110.8,1807.2 1113.8,1876.9 1150.1,1946.2 1186.6,1807.2 1189.0,1876.9 1292.7,1946.2 1400.8,1877.0 1414.1,1946.2" fill="#0000ff" stroke="#000090" stroke-width="0.8" stroke-linejoin="miter"/>
<text x="145.5" y="2036.4" font-size="23.7" text-anchor="middle" fill="#000">GSM2481679</text>
<path d="M259.1 1961.7H271.1V2100.2H259.1" fill="none" stroke="#666" stroke-width="1.2"/>
<text x="250.7" y="1964.4" font-size="12" text-anchor="end" fill="#000">37</text>
<text x="251.2" y="2102.2" font-size="12" text-anchor="end" fill="#000">0</text>
<polygon points="436.1,2100.2 606.6,1961.7 780.4,2100.2 954.5,1961.7 957.4,2100.2 961.0,1961.7 1193.2,2100.2" fill="#0000ff" stroke="#000090" stroke-width="0.8" stroke-linejoin="miter"/>
<text x="145.5" y="2190.3" font-size="23.7" text-anchor="middle" fill="#000">GSM2481678</text>
<path d="M259.1 2115.6H271.1V2254.1H259.1" fill="none" stroke="#666" stroke-width="1.2"/>
<text x="250.7" y="2118.3" font-size="12" text-anchor="end" fill="#000">29</text>
<text x="251.2" y="2256.1" font-size="12" text-anchor="end" fill="#000">0</text>
<polygon points="666.3,2254.1 1062.5,2115.6 1168.7,2254.1 1277.4,2115.6 1351.1,2254.1" fill="#0000ff" stroke="#000090" stroke-width="0.8" stroke-linejoin="miter"/>
<text x="145.5" y="2344.3" font-size="23.7" text-anchor="middle" fill="#000">GSM2481677</text>
<path d="M259.1 2269.5H271.1V2408.0H259.1" fill="none" stroke="#666" stroke-width="1.2"/>
<text x="250.7" y="2272.2" font-size="12" text-anchor="end" fill="#000">5</text>
<text x="251.2" y="2410.0" font-size="12" text-anchor="end" fill="#000">0</text>
<polygon points="271.5,2408.0 271.6,2348.6 274.7,2363.7 278.3,2348.6 280.5,2388.0 286.2,2408.0 294.6,2388.0 303.9,2408.0 310.5,2388.0 313.6,2348.6 318.1,2399.1 321.6,2368.1 324.7,2408.0 329.1,2408.0 334.9,2388.0 338.8,2308.9 343.3,2388.0 346.8,2408.0 351.2,2388.0 361.4,2408.0 372.4,2388.0 389.7,2408.0 405.6,2368.1 410.0,2388.0 415.3,2348.6 417.6,2376.9 418.9,2368.1 422.0,2388.0 435.2,2408.0 448.5,2388.0 450.7,2408.0 453.8,2388.0 457.3,2408.0 460.9,2388.0 464.9,2408.0 471.5,2368.1 475.9,2381.4 479.5,2368.1 481.7,2381.4 482.6,2368.1 486.1,2408.0 488.3,2388.0 492.7,2408.0 494.9,2388.0 498.0,2328.7 500.2,2341.6 501.6,2328.7 506.0,2388.0 509.5,2408.0 520.1,2388.0 528.1,2408.0 530.3,2388.0 533.8,2408.0 536.9,2388.0 539.1,2408.0 542.7,2388.0 550.2,2408.0 557.7,2388.0 564.4,2368.1 567.0,2408.0 569.2,2388.0 571.4,2408.0 574.5,2388.0 576.7,2408.0 580.3,2368.1 585.6,2388.0 590.0,2408.0 598.0,2348.6 603.3,2388.0 614.3,2408.0 622.3,2368.1 627.6,2408.0 630.7,2388.0 635.1,2348.6 637.8,2381.4 641.7,2348.6 645.3,2376.9 647.5,2368.1 650.6,2383.6 655.3,2368.1 658.0,2408.0 661.9,2388.0 664.6,2408.0 668.6,2368.1 673.0,2408.0 678.7,2388.0 684.5,2408.0 696.4,2368.1 709.7,2408.0 719.4,2368.1 725.2,2408.0 728.3,2388.0 730.5,2408.0 734.0,2388.0 736.2,2408.0 740.6,2388.0 745.1,2408.0 753.0,2388.0 758.3,2408.0 765.0,2368.1 768.5,2388.0 770.3,2348.6 772.5,2359.3 773.8,2348.6 777.3,2388.0 784.0,2408.0 791.5,2388.0 795.0,2408.0 799.0,2388.0 803.9,2408.0 809.2,2388.0 812.7,2408.0 821.6,2348.6 826.9,2368.1 831.3,2388.0 837.9,2408.0 844.6,2388.0 849.9,2408.0 855.6,2368.1 859.1,2381.4 865.3,2348.6 868.9,2388.0 875.5,2408.0 883.5,2348.6 885.2,2359.3 887.4,2348.6 891.9,2408.0 902.9,2348.6 912.2,2408.0 915.3,2388.0 923.3,2408.0 930.8,2368.1 933.0,2328.7 935.2,2368.1 941.0,2269.9 945.4,2346.0 948.5,2289.4 950.7,2312.8 952.0,2308.4 955.1,2348.6 959.5,2388.0 964.8,2368.1 970.6,2388.0 975.0,2328.7 977.2,2339.4 979.4,2308.9 981.6,2368.1 988.3,2408.0 996.2,2368.1 1002.9,2408.0 1006.0,2388.0 1008.2,2408.0 1011.7,2388.0 1030.3,2408.0 1048.8,2388.0 1052.4,2368.1 1056.8,2408.0 1065.2,2368.1 1071.8,2408.0 1078.9,2348.6 1082.9,2408.0 1087.3,2348.6 1090.0,2363.7 1093.1,2348.6 1096.2,2381.4 1097.5,2368.1 1100.6,2385.8 1104.1,2368.1 1107.2,2388.0 1120.9,2408.0 1137.3,2388.0 1141.7,2348.6 1146.1,2408.0 1149.2,2388.0 1159.4,2408.0 1171.3,2388.0 1174.9,2368.1 1177.1,2383.6 1178.4,2368.1 1181.5,2388.0 1192.6,2408.0 1204.9,2388.0 1211.6,2408.0 1218.2,2388.0 1220.4,2408.0 1224.4,2388.0 1226.6,2408.0 1231.5,2368.1 1242.1,2408.0 1246.9,2388.0 1252.2,2408.0 1258.0,2388.0 1266.4,2408.0 1282.3,2368.1 1285.4,2383.6 1288.5,2368.1 1292.0,2388.0 1303.1,2408.0 1313.3,2388.0 1315.5,2408.0 1321.7,2368.1 1327.4,2388.0 1339.4,2408.0 1349.5,2388.0 1354.8,2408.0 1358.4,2388.0 1361.5,2408.0 1365.0,2348.6 1369.4,2388.0 1376.1,2408.0 1386.2,2388.0 1393.7,2408.0 1398.2,2388.0 1406.1,2408.0 1413.6,2388.0 1417.2,2368.1 1421.6,2408.0" fill="#0000ff" stroke="#000090" stroke-width="0.8" stroke-linejoin="miter"/>
<text x="145.5" y="2498.2" font-size="23.7" text-anchor="middle" fill="#000">GSM2481676</text>
<text x="145.5" y="2652.1" font-size="23.7" text-anchor="middle" fill="#000">GSM2481675</text>
<path d="M259.1 2577.4H271.1V2715.9H259.1" fill="none" stroke="#666" stroke-width="1.2"/>
<text x="250.7" y="2580.1" font-size="12" text-anchor="end" fill="#000">10</text>
<text x="251.2" y="2717.9" font-size="12" text-anchor="end" fill="#000">0</text>
<polygon points="271.6,2715.9 271.6,2646.5 276.1,2715.9 281.8,2681.4 288.0,2715.9 301.3,2646.5 307.9,2715.9 313.6,2681.4 326.0,2715.9 338.0,2681.4 340.2,2646.5 342.4,2681.4 356.5,2715.9 372.4,2681.4 375.5,2715.9 377.8,2681.4 416.2,2715.9 458.2,2681.4 469.7,2715.9 479.5,2681.4 488.3,2715.9 496.3,2681.4 513.5,2715.9 530.3,2646.5 542.7,2715.9 551.5,2681.4 556.8,2715.9 561.3,2646.5 570.1,2715.9 575.9,2681.4 578.9,2715.9 582.0,2681.4 591.3,2715.9 600.2,2681.4 609.0,2715.9 617.4,2681.4 625.4,2715.9 638.6,2646.5 647.5,2715.9 658.0,2681.4 680.1,2715.9 700.0,2681.4 703.9,2715.9 708.4,2681.4 713.2,2715.9 721.6,2646.5 728.3,2681.4 767.2,2715.9 804.8,2681.4 814.5,2715.9 822.4,2646.5 826.0,2576.7 829.1,2715.9 833.5,2681.4 840.1,2715.9 850.3,2646.5 855.6,2681.4 873.3,2715.9 893.2,2681.4 915.3,2715.9 935.2,2681.4 936.5,2715.9 939.6,2646.5 942.7,2715.9 952.0,2646.5 955.1,2715.9 957.3,2681.4 966.2,2715.9 975.0,2681.4 982.5,2715.9 989.1,2681.4 997.1,2715.9 1004.6,2681.4 1016.1,2715.9 1031.2,2681.4 1033.8,2715.9 1040.0,2681.4 1056.8,2715.9 1074.0,2681.4 1076.7,2715.9 1079.8,2646.5 1109.4,2715.9 1138.6,2646.5 1144.8,2715.9 1149.7,2681.4 1178.4,2715.9 1207.1,2681.4 1219.1,2715.9 1230.1,2681.4 1232.3,2715.9 1235.4,2681.4 1250.0,2715.9 1262.0,2681.4 1267.7,2715.9 1274.4,2646.5 1278.8,2715.9 1281.9,2681.4 1293.4,2715.9 1304.4,2646.5 1308.8,2681.4 1315.0,2715.9 1323.9,2681.4 1334.9,2715.9 1345.1,2681.4 1361.9,2715.9 1378.3,2681.4 1381.4,2715.9 1386.2,2681.4 1398.2,2715.9 1409.2,2681.4 1417.2,2715.9" fill="#0000ff" stroke="#000090" stroke-width="0.8" stroke-linejoin="miter"/>
<text x="145.5" y="2806.1" font-size="23.7" text-anchor="middle" fill="#000">GSM2481674</text>
<path d="M259.1 2731.3H271.1V2869.8H259.1" fill="none" stroke="#666" stroke-width="1.2"/>
<text x="250.7" y="2734.0" font-size="12" text-anchor="end" fill="#000">120</text>
<text x="251.2" y="2871.8" font-size="12" text-anchor="end" fill="#000">0</text>
<polygon points="359.2,2869.8 448.7,2731.3 546.9,2869.8 646.4,2731.3 880.2,2869.8 1113.6,2731.3 1269.5,2869.8" fill="#0000ff" stroke="#000090" stroke-width="0.8" stroke-linejoin="miter"/>
<text x="145.5" y="2960.0" font-size="23.7" text-anchor="middle" fill="#000">GSM2481673</text>
<path d="M259.1 2885.2H271.1V3023.7H259.1" fill="none" stroke="#666" stroke-width="1.2"/>
<text x="250.7" y="2887.9" font-size="12" text-anchor="end" fill="#000">23</text>
<text x="251.2" y="3025.7" font-size="12" text-anchor="end" fill="#000">0</text>
<polygon points="273.0,3023.7 276.9,2989.4 281.4,3006.2 295.1,3023.7 307.0,3006.2 309.2,2989.4 311.4,3006.2 314.5,2989.4 316.7,3006.2 318.1,2989.4 321.2,3006.2 339.3,3023.7 359.2,3006.2 361.4,3023.7 365.4,3006.2 368.0,3023.7 371.1,3006.2 373.3,3023.7 379.1,3006.2 436.6,3023.7 491.8,3006.2 509.5,3023.7 529.0,3006.2 543.6,3023.7 560.4,3006.2 564.4,3023.7 567.0,3006.2 590.0,3023.7 613.4,3006.2 624.5,3023.7 634.2,3006.2 658.0,3023.7 682.3,3006.2 701.7,3023.7 718.5,3006.2 721.6,2989.4 725.2,3006.2 738.4,3023.7 750.8,3006.2 753.9,3023.7 758.3,3006.2 776.0,3023.7 792.4,3006.2 794.6,3023.7 797.2,3006.2 813.6,3023.7 826.9,3006.2 841.0,3023.7 854.7,3006.2 865.3,3023.7 876.4,3006.2 904.3,3023.7 931.7,3006.2 936.1,2884.6 939.6,2955.3 942.7,2920.0 946.3,2970.8 949.4,3023.7 955.1,2971.7 961.7,3023.7 967.0,3006.2 972.8,3023.7 978.1,3006.2 999.3,3023.7 1021.4,3006.2 1032.5,3023.7 1040.0,3006.2 1051.1,3023.7 1063.0,3006.2 1096.2,3023.7 1130.6,3006.2 1143.0,3023.7 1155.9,3006.2 1166.0,3023.7 1174.9,3006.2 1177.1,3023.7 1179.3,3006.2 1184.6,3023.7 1190.3,3006.2 1195.6,3023.7 1199.2,3006.2 1201.4,3023.7 1204.5,3006.2 1223.5,3023.7 1239.0,3006.2 1241.2,2989.4 1242.5,3006.2 1244.3,2989.4 1246.9,3006.2 1252.2,3023.7 1258.9,2989.4 1264.2,3023.7 1267.7,3006.2 1273.0,3023.7 1278.8,3006.2 1284.5,3023.7 1291.2,2989.4 1294.3,3006.2 1312.8,3023.7 1333.2,2989.4 1379.1,3023.7" fill="#0000ff" stroke="#000090" stroke-width="0.8" stroke-linejoin="miter"/>
<text x="145.5" y="3113.9" font-size="23.7" text-anchor="middle" fill="#000">GSM2481672</text>
<path d="M259.1 3039.2H271.1V3177.7H259.1" fill="none" stroke="#666" stroke-width="1.2"/>
<text x="250.7" y="3041.9" font-size="12" text-anchor="end" fill="#000">38</text>
<text x="251.2" y="3179.7" font-size="12" text-anchor="end" fill="#000">0</text>
<polygon points="328.0,3177.7 387.7,3039.2 580.1,3177.7 773.7,3039.2 797.6,3177.7 822.1,3039.2 889.4,3177.7 955.8,3039.2 1158.7,3177.7 1362.3,3039.2 1394.2,3177.7" fill="#0000ff" stroke="#000090" stroke-width="0.8" stroke-linejoin="miter"/>
<text x="145.5" y="3267.9" font-size="23.7" text-anchor="middle" fill="#000">GSM2481671</text>
<path d="M259.1 3193.1H271.1V3331.6H259.1" fill="none" stroke="#666" stroke-width="1.2"/>
<text x="250.7" y="3195.8" font-size="12" text-anchor="end" fill="#000">15</text>
<text x="251.2" y="3333.6" font-size="12" text-anchor="end" fill="#000">0</text>
<polygon points="308.3,3331.6 347.7,3297.0 349.0,3262.5 350.3,3297.0 357.9,3331.6 363.2,3297.0 382.2,3331.6 402.1,3297.0 416.7,3331.6 430.8,3297.0 444.1,3331.6 458.2,3297.0 460.4,3331.6 462.7,3297.0 507.3,3331.6 552.4,3297.0 553.7,3262.5 555.5,3297.0 564.4,3331.6 575.9,3297.0 581.2,3331.6 586.5,3297.0 608.6,3331.6 630.7,3297.0 649.7,3331.6 652.2,3331.6 673.0,3297.0 708.4,3331.6 744.2,3297.0 770.3,3331.6 797.2,3297.0 799.5,3331.6 802.6,3297.0 805.6,3331.6 810.1,3297.0 817.1,3331.6 826.0,3262.5 830.4,3331.6 834.8,3297.0 844.6,3331.6 854.3,3297.0 864.5,3331.6 875.5,3297.0 894.1,3331.6 911.8,3262.5 921.9,3331.6 927.7,3297.0 930.8,3331.6 933.0,3297.0 936.1,3192.6 939.6,3247.9 941.8,3228.0 946.3,3287.7 949.4,3262.5 950.7,3292.1 952.9,3262.5 955.1,3297.0 962.6,3331.6 972.8,3297.0 981.6,3331.6 988.3,3297.0 990.5,3318.7 994.9,3228.0 999.3,3297.0 1006.0,3331.6 1014.8,3297.0 1017.0,3331.6 1020.5,3297.0 1023.6,3331.6 1028.9,3297.0 1031.6,3331.6 1036.9,3297.0 1042.2,3331.6 1048.8,3262.5 1051.9,3297.0 1062.1,3331.6 1074.5,3297.0 1098.4,3331.6 1124.0,3297.0 1133.7,3331.6 1144.8,3297.0 1148.3,3262.5 1151.4,3331.6 1156.3,3297.0 1174.9,3331.6 1191.7,3297.0 1237.7,3331.6 1284.5,3297.0 1286.7,3262.5 1288.9,3297.0 1308.8,3331.6 1329.6,3297.0 1348.2,3331.6 1367.2,3297.0 1387.1,3331.6 1407.0,3297.0 1415.0,3331.6 1422.5,3297.0 1422.9,3331.6" fill="#0000ff" stroke="#000090" stroke-width="0.8" stroke-linejoin="miter"/>
<text x="145.5" y="3421.8" font-size="23.7" text-anchor="middle" fill="#000">GSM2481670</text>
<text x="145.5" y="3575.7" font-size="23.7" text-anchor="middle" fill="#000">GSM2481669</text>
<path d="M259.1 3501.0H271.1V3639.5H259.1" fill="none" stroke="#666" stroke-width="1.2"/>
<text x="250.7" y="3503.7" font-size="12" text-anchor="end" fill="#000">4</text>
<text x="251.2" y="3641.5" font-size="12" text-anchor="end" fill="#000">0</text>
<polygon points="272.5,3639.5 272.5,3611.5 276.1,3639.5 280.5,3611.5 284.9,3639.5 290.2,3611.5 292.4,3639.5 295.1,3611.5 297.3,3639.5 301.3,3611.5 305.7,3639.5 310.5,3611.5 313.6,3639.5 316.7,3611.5 322.5,3639.5 330.0,3584.1 335.7,3625.7 338.0,3639.5 343.7,3556.3 348.1,3639.5 352.1,3584.1 354.3,3608.0 357.0,3584.1 367.6,3639.5 372.4,3584.1 382.2,3639.5 395.4,3611.5 399.9,3639.5 403.0,3611.5 405.6,3639.5 413.1,3584.1 415.3,3594.7 418.4,3528.4 422.9,3639.5 429.5,3584.1 434.4,3639.5 437.4,3611.5 443.2,3639.5 447.6,3611.5 450.7,3639.5 453.8,3584.1 456.0,3599.2 458.7,3556.3 460.9,3590.3 462.7,3556.3 467.1,3611.5 471.9,3528.4 477.2,3639.5 482.6,3584.1 488.3,3639.5 494.0,3556.3 497.1,3611.5 503.8,3639.5 511.3,3584.1 517.0,3639.5 523.7,3611.5 530.3,3639.5 538.3,3556.3 543.6,3611.5 550.2,3639.5 558.2,3611.5 564.4,3639.5 570.1,3611.5 572.3,3639.5 575.4,3611.5 580.3,3639.5 587.8,3584.1 594.4,3639.5 601.1,3611.5 604.1,3639.5 607.7,3611.5 614.3,3639.5 620.1,3611.5 627.6,3639.5 634.2,3611.5 640.9,3639.5 650.6,3556.3 656.6,3639.5 663.3,3611.5 669.9,3639.5 677.4,3556.3 679.6,3599.2 681.8,3584.1 699.5,3639.5 717.2,3584.1 719.4,3639.5 723.0,3611.5 737.6,3639.5 751.7,3584.1 755.2,3611.5 773.8,3639.5 792.4,3611.5 800.3,3639.5 807.0,3611.5 813.6,3639.5 820.2,3611.5 828.2,3639.5 840.1,3584.1 844.6,3639.5 852.1,3584.1 854.3,3611.5 863.1,3639.5 873.3,3611.5 875.5,3639.5 877.7,3611.5 879.9,3639.5 880.8,3611.5 883.0,3639.5 885.2,3584.1 888.8,3603.6 893.2,3584.1 896.7,3639.5 899.8,3611.5 908.7,3639.5 918.4,3611.5 924.1,3639.5 932.1,3556.3 935.2,3599.2 943.2,3501.0 948.5,3625.7 953.3,3501.0 959.5,3599.2 964.8,3584.1 971.9,3639.5 978.1,3611.5 980.7,3639.5 983.8,3611.5 986.1,3639.5 989.1,3611.5 991.4,3639.5 994.9,3611.5 1000.2,3639.5 1007.3,3611.5 1011.7,3639.5 1016.1,3611.5 1017.9,3639.5 1020.5,3584.1 1023.6,3639.5 1026.7,3611.5 1033.4,3639.5 1040.0,3611.5 1042.2,3584.1 1044.4,3625.7 1046.6,3584.1 1051.1,3639.5 1053.3,3611.5 1055.5,3639.5 1059.9,3584.1 1068.7,3639.5 1077.6,3584.1 1082.9,3639.5 1087.3,3528.4 1091.7,3639.5 1097.5,3611.5 1107.7,3639.5 1116.5,3611.5 1118.7,3639.5 1120.9,3584.1 1123.1,3639.5 1127.1,3611.5 1136.0,3639.5 1146.1,3611.5 1155.9,3639.5 1165.1,3611.5 1167.3,3639.5 1171.3,3611.5 1174.0,3639.5 1180.6,3611.5 1185.9,3639.5 1189.5,3611.5 1194.8,3639.5 1200.1,3611.5 1202.3,3639.5 1204.5,3611.5 1208.0,3639.5 1213.8,3584.1 1219.1,3639.5 1224.4,3556.3 1230.1,3639.5 1235.9,3556.3 1241.2,3611.5 1247.8,3639.5 1255.3,3611.5 1257.6,3639.5 1261.1,3611.5 1263.3,3639.5 1266.4,3611.5 1273.5,3639.5 1281.9,3584.1 1285.4,3639.5 1288.5,3611.5 1292.0,3639.5 1297.8,3584.1 1300.9,3639.5 1304.0,3584.1 1306.6,3639.5 1310.6,3584.1 1317.7,3639.5 1326.1,3611.5 1339.4,3639.5 1353.9,3611.5 1361.9,3639.5 1368.1,3611.5 1370.7,3639.5 1374.7,3611.5 1381.4,3639.5 1388.0,3611.5 1390.6,3639.5 1393.7,3584.1 1397.3,3639.5 1404.8,3611.5 1415.9,3639.5" fill="#0000ff" stroke="#000090" stroke-width="0.8" stroke-linejoin="miter"/>
<text x="145.5" y="3729.6" font-size="23.7" text-anchor="middle" fill="#000">GSM2481668</text>
<path d="M259.1 3654.9H271.1V3793.4H259.1" fill="none" stroke="#666" stroke-width="1.2"/>
<text x="250.7" y="3657.6" font-size="12" text-anchor="end" fill="#000">11</text>
<text x="251.2" y="3795.4" font-size="12" text-anchor="end" fill="#000">0</text>
<polygon points="279.6,3793.4 289.3,3758.9 304.8,3793.4 319.4,3758.9 350.3,3793.4 382.2,3758.9 399.0,3793.4 416.7,3758.9 446.3,3793.4 474.1,3758.9 480.3,3793.4 487.0,3758.9 492.7,3793.4 498.5,3758.9 511.7,3793.4 525.0,3758.9 532.5,3793.4 542.2,3724.4 552.4,3793.4 562.6,3758.9 567.0,3655.0 570.1,3758.9 572.3,3793.4 579.8,3724.4 606.4,3793.4 636.4,3758.9 684.5,3793.4 736.2,3758.9 745.1,3793.4 753.9,3758.9 759.2,3793.4 763.6,3758.9 767.2,3793.4 771.6,3758.9 772.9,3793.4 775.1,3758.9 798.1,3793.4 822.4,3758.9 826.9,3793.4 833.5,3724.4 838.8,3793.4 845.4,3724.4 881.3,3793.4 921.9,3758.9 941.8,3793.4 958.6,3758.9 961.7,3793.4 965.3,3689.0 968.4,3793.4 973.7,3793.4 979.4,3758.9 982.5,3793.4 988.3,3758.9 998.4,3793.4 1009.0,3758.9 1028.9,3793.4 1040.0,3775.2 1046.6,3758.9 1049.7,3724.4 1052.4,3779.7 1055.5,3758.9 1071.8,3793.4 1087.8,3758.9 1095.3,3793.4 1101.0,3758.9 1105.4,3793.4 1109.4,3758.9 1113.0,3793.4 1118.3,3758.9 1121.8,3793.4 1127.6,3758.9 1141.7,3793.4 1155.9,3758.9 1159.4,3793.4 1165.1,3724.4 1171.3,3793.4 1174.9,3793.4 1178.4,3724.4 1183.7,3793.4 1190.3,3758.9 1193.9,3793.4 1200.5,3758.9 1216.0,3793.4 1230.1,3758.9 1248.7,3793.4 1269.0,3758.9 1272.1,3793.4 1280.1,3724.4 1285.4,3793.4 1289.8,3758.9 1309.7,3793.4 1329.6,3758.9 1343.8,3793.4 1354.8,3758.9 1357.5,3793.4 1360.6,3758.9 1376.1,3793.4 1389.3,3758.9 1392.4,3689.0 1397.3,3793.4 1403.5,3758.9 1414.5,3793.4" fill="#0000ff" stroke="#000090" stroke-width="0.8" stroke-linejoin="miter"/>
<line x1="512" y1="3957.4" x2="937" y2="3957.4" stroke="#222" stroke-width="1.1"/>
<path d="M525.5 3948.1L515.8 3957.4L525.5 3966.7" fill="none" stroke="#222" stroke-width="1.05"/>
<path d="M562.9 3948.1L553.2 3957.4L562.9 3966.7" fill="none" stroke="#222" stroke-width="1.05"/>
<path d="M585.6 3948.1L575.9 3957.4L585.6 3966.7" fill="none" stroke="#222" stroke-width="1.05"/>
<path d="M605.1 3948.1L595.4 3957.4L605.1 3966.7" fill="none" stroke="#222" stroke-width="1.05"/>
<path d="M642.6 3948.1L632.9 3957.4L642.6 3966.7" fill="none" stroke="#222" stroke-width="1.05"/>
<path d="M680.3 3948.1L670.6 3957.4L680.3 3966.7" fill="none" stroke="#222" stroke-width="1.05"/>
<path d="M718.0 3948.1L708.3 3957.4L718.0 3966.7" fill="none" stroke="#222" stroke-width="1.05"/>
<path d="M755.7 3948.1L746.0 3957.4L755.7 3966.7" fill="none" stroke="#222" stroke-width="1.05"/>
<path d="M793.0 3948.1L783.3 3957.4L793.0 3966.7" fill="none" stroke="#222" stroke-width="1.05"/>
<path d="M830.7 3948.1L821.0 3957.4L830.7 3966.7" fill="none" stroke="#222" stroke-width="1.05"/>
<path d="M855.7 3948.1L846.0 3957.4L855.7 3966.7" fill="none" stroke="#222" stroke-width="1.05"/>
<path d="M893.4 3948.1L883.7 3957.4L893.4 3966.7" fill="none" stroke="#222" stroke-width="1.05"/>
<path d="M930.3 3948.1L920.6 3957.4L930.3 3966.7" fill="none" stroke="#222" stroke-width="1.05"/>
<rect x="342.6" y="3934" width="170.1" height="47" fill="#000"/>
<rect x="454.8" y="3910.2" width="42.2" height="94.2" fill="#000"/>
<rect x="566.2" y="3934" width="3.8" height="47" fill="#000"/>
<rect x="591.4" y="3934" width="4" height="47" fill="#000"/>
<rect x="830.2" y="3934" width="9.8" height="47" fill="#000"/>
<rect x="936.3" y="3934" width="2" height="47" fill="#000"/>
<text x="640" y="3903" font-size="36" text-anchor="middle" fill="#000">ZNF260</text>
<rect x="271.1" y="4062.9" width="1152.5" height="57.6" fill="#c8c8c8"/>
<line x1="271.1" y1="4062.9" x2="1423.6" y2="4062.9" stroke="#707070" stroke-width="1.3"/>
<line x1="271.1" y1="4120.5" x2="1423.6" y2="4120.5" stroke="#707070" stroke-width="1.3"/>
<line x1="319.80" y1="4120.5" x2="319.80" y2="4150.5" stroke="#000" stroke-opacity="0.5" stroke-width="1"/>
<line x1="319.80" y1="4120.5" x2="319.80" y2="4195" stroke="#000" stroke-opacity="0.72" stroke-width="1"/>
<text x="319.8" y="4211.8" font-size="24" text-anchor="middle" fill="#000">36.51Mb</text>
<line x1="387.51" y1="4120.5" x2="387.51" y2="4150.5" stroke="#000" stroke-opacity="0.5" stroke-width="1"/>
<line x1="455.23" y1="4120.5" x2="455.23" y2="4150.5" stroke="#000" stroke-opacity="0.5" stroke-width="1"/>
<line x1="522.94" y1="4120.5" x2="522.94" y2="4150.5" stroke="#000" stroke-opacity="0.5" stroke-width="1"/>
<line x1="590.66" y1="4120.5" x2="590.66" y2="4150.5" stroke="#000" stroke-opacity="0.5" stroke-width="1"/>
<line x1="658.37" y1="4120.5" x2="658.37" y2="4150.5" stroke="#000" stroke-opacity="0.5" stroke-width="1"/>
<line x1="658.37" y1="4120.5" x2="658.37" y2="4195" stroke="#000" stroke-opacity="0.72" stroke-width="1"/>
<text x="658.4" y="4211.8" font-size="24" text-anchor="middle" fill="#000">36.52Mb</text>
<line x1="726.08" y1="4120.5" x2="726.08" y2="4150.5" stroke="#000" stroke-opacity="0.5" stroke-width="1"/>
<line x1="793.80" y1="4120.5" x2="793.80" y2="4150.5" stroke="#000" stroke-opacity="0.5" stroke-width="1"/>
<line x1="861.51" y1="4120.5" x2="861.51" y2="4150.5" stroke="#000" stroke-opacity="0.5" stroke-width="1"/>
<line x1="929.23" y1="4120.5" x2="929.23" y2="4150.5" stroke="#000" stroke-opacity="0.5" stroke-width="1"/>
<line x1="996.94" y1="4120.5" x2="996.94" y2="4150.5" stroke="#000" stroke-opacity="0.5" stroke-width="1"/>
<line x1="996.94" y1="4120.5" x2="996.94" y2="4195" stroke="#000" stroke-opacity="0.72" stroke-width="1"/>
<text x="996.9" y="4211.8" font-size="24" text-anchor="middle" fill="#000">36.53Mb</text>
<line x1="1064.65" y1="4120.5" x2="1064.65" y2="4150.5" stroke="#000" stroke-opacity="0.5" stroke-width="1"/>
<line x1="1132.37" y1="4120.5" x2="1132.37" y2="4150.5" stroke="#000" stroke-opacity="0.5" stroke-width="1"/>
<line x1="1200.08" y1="4120.5" x2="1200.08" y2="4150.5" stroke="#000" stroke-opacity="0.5" stroke-width="1"/>
<line x1="1267.80" y1="4120.5" x2="1267.80" y2="4150.5" stroke="#000" stroke-opacity="0.5" stroke-width="1"/>
<line x1="1335.51" y1="4120.5" x2="1335.51" y2="4150.5" stroke="#000" stroke-opacity="0.5" stroke-width="1"/>
<line x1="1335.51" y1="4120.5" x2="1335.51" y2="4195" stroke="#000" stroke-opacity="0.72" stroke-width="1"/>
<text x="1335.5" y="4211.8" font-size="24" text-anchor="middle" fill="#000">36.54Mb</text>
<line x1="1403.22" y1="4120.5" x2="1403.22" y2="4150.5" stroke="#000" stroke-opacity="0.5" stroke-width="1"/>
<text x="136" y="4109.3" font-size="48" text-anchor="middle" fill="#000">chr19</text>
</svg></body></html>
